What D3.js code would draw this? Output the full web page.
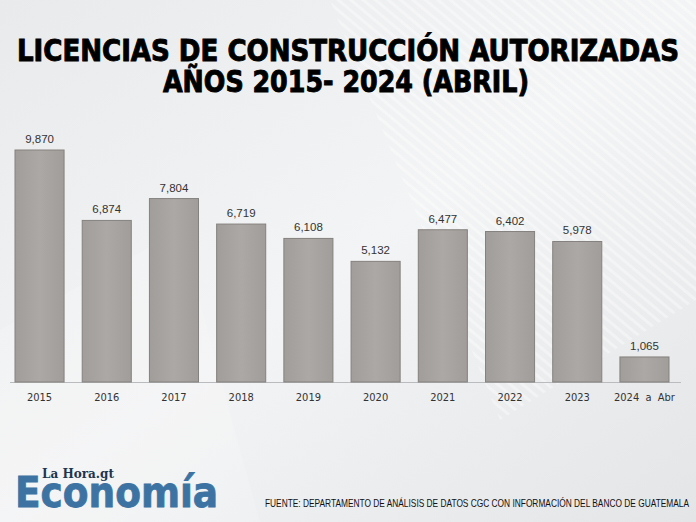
<!DOCTYPE html>
<html><head><meta charset="utf-8">
<script src="https://cdn.jsdelivr.net/npm/d3@7"></script>
<style>body{margin:0;}svg{display:block;}</style>
</head><body>
<script>
const categories = ["2015","2016","2017","2018","2019","2020","2021","2022","2023","2024 a Abr"];
const values = [9870,6874,7804,6719,6108,5132,6477,6402,5978,1065];
const titleLines = ["LICENCIAS DE CONSTRUCCIÓN AUTORIZADAS","AÑOS 2015- 2024 (ABRIL)"];
const source = "FUENTE: DEPARTAMENTO DE ANÁLISIS DE DATOS CGC CON INFORMACIÓN DEL BANCO DE GUATEMALA";

const W=696,H=522;
const svg=d3.select("body").append("svg").attr("width",W).attr("height",H);
const defs=svg.append("defs");
const bg=defs.append("linearGradient").attr("id","bg").attr("x1","0").attr("y1","0").attr("x2","1").attr("y2","1");
bg.append("stop").attr("offset","0").attr("stop-color","#e9eaec");
bg.append("stop").attr("offset","0.5").attr("stop-color","#f3f4f5");
bg.append("stop").attr("offset","1").attr("stop-color","#e4e5e7");
svg.append("rect").attr("width",W).attr("height",H).attr("fill","url(#bg)");
const pat=defs.append("pattern").attr("id","stripes").attr("width",8).attr("height",8)
 .attr("patternUnits","userSpaceOnUse").attr("patternTransform","rotate(-50)");
pat.append("rect").attr("width",3).attr("height",8).attr("fill","#ffffff").attr("opacity",0.35);
svg.append("polygon").attr("points","330,0 696,0 696,300 500,420").attr("fill","url(#stripes)");
svg.append("polygon").attr("points","0,330 180,230 260,522 0,522").attr("fill","#ffffff").attr("opacity",0.15);

const barG=defs.append("linearGradient").attr("id","bar").attr("x1","0").attr("x2","1");
barG.append("stop").attr("offset","0").attr("stop-color","#a19d9a");
barG.append("stop").attr("offset","0.5").attr("stop-color","#aca8a5");
barG.append("stop").attr("offset","1").attr("stop-color","#a19d9a");

const x=d3.scaleBand().domain(categories).range([15,669]).paddingInner(0.27).paddingOuter(0);
const y=d3.scaleLinear().domain([0,9870]).range([382,150]);

svg.append("line").attr("x1",10).attr("x2",681).attr("y1",382.5).attr("y2",382.5)
 .attr("stroke","#b9bbbe").attr("stroke-width",1);

svg.selectAll("rect.bar").data(values).join("rect").attr("class","bar")
 .attr("x",(d,i)=>x(categories[i])).attr("width",x.bandwidth())
 .attr("y",d=>y(d)).attr("height",d=>y(0)-y(d))
 .attr("fill","url(#bar)").attr("stroke","#85817e").attr("stroke-width",1);

svg.selectAll("text.val").data(values).join("text").attr("class","val")
 .attr("x",(d,i)=>x(categories[i])+x.bandwidth()/2).attr("y",d=>y(d)-7)
 .attr("text-anchor","middle").attr("font-family","Liberation Sans, Arial, sans-serif")
 .attr("font-size",11.5).attr("fill","#333").text(d=>d3.format(",")(d));

const xAxis=svg.append("g").attr("transform","translate(0,382)")
 .call(d3.axisBottom(x).tickSize(0).tickPadding(11));
xAxis.select(".domain").remove();
xAxis.selectAll("text").attr("font-family","DejaVu Sans Condensed, sans-serif").attr("font-size",11).attr("fill","#333")
 .attr("xml:space","preserve").text(d=>d==="2024 a Abr"?"2024  a  Abr":d);

svg.append("text").attr("x",348).attr("y",61).attr("text-anchor","middle")
 .attr("font-family","DejaVu Sans Condensed, sans-serif").attr("font-weight","bold").attr("font-size",30)
 .attr("textLength",662).attr("lengthAdjust","spacingAndGlyphs").attr("fill","#000")
 .attr("stroke","#000").attr("stroke-width",0.9).text(titleLines[0]);
svg.append("text").attr("x",346).attr("y",92).attr("text-anchor","middle")
 .attr("font-family","DejaVu Sans Condensed, sans-serif").attr("font-weight","bold").attr("font-size",30)
 .attr("textLength",366).attr("lengthAdjust","spacingAndGlyphs").attr("fill","#000")
 .attr("stroke","#000").attr("stroke-width",0.9).text(titleLines[1]);

// logo
svg.append("text").attr("x",42).attr("y",478).attr("font-family","DejaVu Serif, serif").attr("font-weight","bold")
 .attr("font-size",12).attr("fill","#1d3550").text("La Hora.gt");
svg.append("text").attr("x",15).attr("y",507).attr("font-family","DejaVu Sans Condensed, sans-serif").attr("font-weight","bold")
 .attr("font-size",42).attr("textLength",203).attr("lengthAdjust","spacingAndGlyphs").attr("fill","#3d73a3")
 .attr("stroke","#3d73a3").attr("stroke-width",0.8).text("Economía");

svg.append("text").attr("x",265).attr("y",507).attr("font-family","Liberation Sans Narrow, Liberation Sans, sans-serif")
 .attr("font-size",10.5).attr("textLength",424).attr("lengthAdjust","spacingAndGlyphs").attr("fill","#111").text(source);
</script>
</body></html>
